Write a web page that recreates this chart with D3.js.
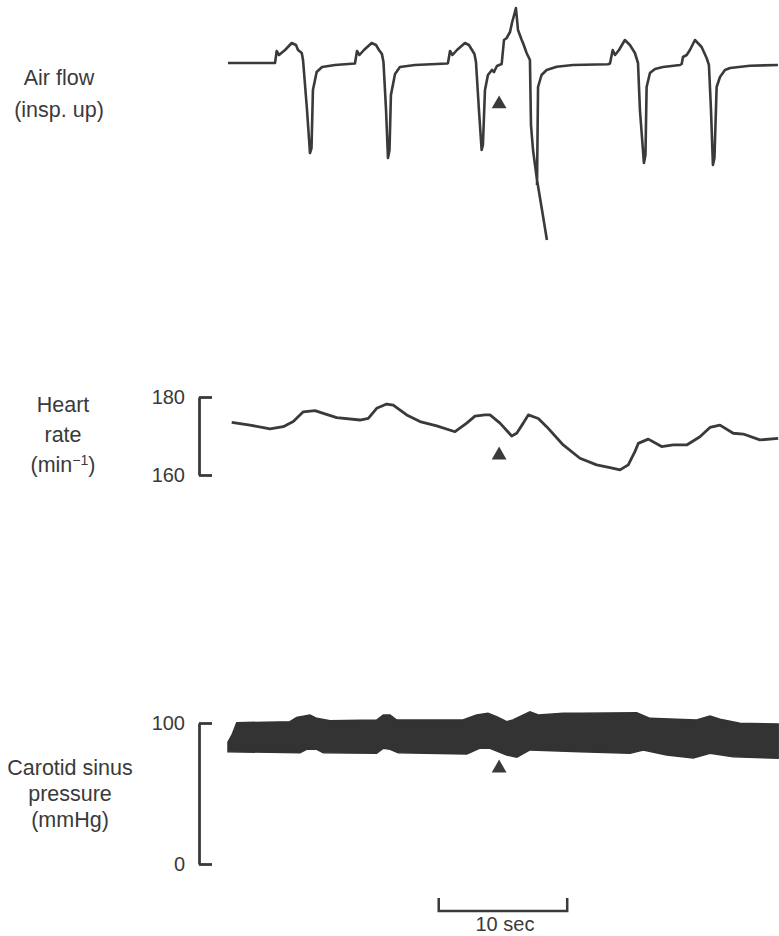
<!DOCTYPE html>
<html>
<head>
<meta charset="utf-8">
<script src="https://cdn.jsdelivr.net/npm/d3@7"></script>
<style>
  body { margin: 0; background: #fff; }
  svg text { font-family: "Liberation Sans", Arial, sans-serif; fill: #3a3a3a; }
</style>
</head>
<body>
<div id="chart"></div>
<script>
const width = 779, height = 936;
const ink = "#3a3a3a";

// air flow trace (arbitrary units, inspiration up), null = pen gap
const airTime = [0, 3.66, 3.79, 3.97, 4.44, 4.96, 5.29, 5.45, 5.74, 5.84, 6.15, 6.38, 6.50, 6.61, 6.90, 7.32, 8.33, 9.88,
  10.04, 10.23, 10.58, 11.18, 11.52, 11.75, 11.98, 12.10, 12.30, 12.45, 12.57, 12.68, 13.00, 13.38, 14.55, 17.04,
  17.12, 17.28, 17.47, 17.82, 18.44, 18.75, 18.99, 19.18, 19.30, 19.53, 19.74, 19.84, 20.00, 20.23, 20.54, 20.70, 20.93, 21.30,
  21.48, 21.69, 21.95, 22.10, 22.33, 22.41, 22.57, 22.86, 22.96, 23.24, 23.50, 23.58, 23.74, 24.05, 24.44, 24.82,
  24.82, 24.05, 24.13, 24.40, 24.80, 25.58, 26.85, 29.57,
  29.73, 29.94, 30.12, 30.43, 30.89, 31.28, 31.67, 31.91, 32.06, 32.37, 32.49, 32.58, 32.84, 33.23, 33.85, 35.18,
  35.31, 35.41, 35.70, 35.95, 36.34, 36.86, 37.25, 37.43, 37.59, 37.74, 37.86, 38.03, 38.29, 38.68, 39.07, 40.62, 42.80];
const airFlow = [0, 0, 12, 8, 13, 20, 18, 13, 10, 3, -47, -90, -85, -27, -9, -4, -2, -0.5,
  12, 8, 13, 20, 18, 13, 9, 1, -47, -95, -87, -32, -11, -4, -2, -0.5,
  0, 12, 8, 13, 20, 18, 13, 9, 1, -47, -87, -82, -27, -12, -7, -9, -3, -1,
  23, 25, 31, 40, 51, 55, 33, 23, 20, 10, 3, -62, -87, -117, -147, -177,
  null, -122, -24, -12, -7, -3.7, -2, -1.3,
  -0.5, 13, 8, 13, 23, 18, 10, 0, -47, -100, -92, -24, -10, -6, -4, -2,
  -1, 6, 8, 13, 23, 16, 5, -2, -47, -102, -95, -24, -14, -7, -5, -2.7, -2];

// heart rate (min^-1)
const hrTime = [0.29, 1.71, 3.27, 4.30, 5.08, 5.86, 6.77, 7.42, 8.46, 10.27, 10.92, 11.57, 12.35, 12.86, 13.91, 14.94,
  16.24, 17.67, 18.58, 19.22, 20.00, 20.39, 21.17, 22.08, 22.47, 22.98, 23.37, 24.15, 24.80, 26.09, 27.39, 28.69,
  29.73, 30.51, 31.15, 31.67, 31.93, 32.71, 33.75, 34.65, 35.70, 36.73, 37.51, 38.29, 39.32, 40.10, 41.40, 42.82];
const hrValue = [173.5, 172.8, 171.8, 172.4, 173.7, 176.2, 176.5, 175.8, 174.7, 174.1, 174.5, 177.1, 178.2, 177.9, 175.4, 173.7,
  172.6, 171.1, 173.3, 175.1, 175.4, 175.4, 173.3, 170.0, 170.7, 173.3, 175.4, 174.5, 172.4, 167.7, 164.3, 162.6,
  161.9, 161.3, 162.6, 166.0, 168.1, 169.2, 167.3, 167.7, 167.7, 169.8, 172.2, 172.8, 170.7, 170.5, 169.0, 169.4];

// carotid sinus pressure envelope (mmHg): systolic top, diastolic bottom
const sysTime = [0, 0.31, 0.68, 4.82, 5.35, 6.38, 6.90, 7.94, 11.57, 12.09, 12.61, 13.13, 18.29, 19.35, 20.23, 20.91,
  21.69, 22.18, 23.50, 24.15, 26.09, 27.39, 31.81, 32.84, 36.47, 37.51, 38.29, 39.84, 42.82];
const sysValue = [86.5, 91.5, 100.2, 100.9, 104, 105.7, 103.3, 101.6, 102.1, 105.7, 105.7, 102.1, 102.1, 105.7, 106.9, 104.5,
  100.9, 102.1, 108, 105.7, 106.9, 106.9, 107.3, 103.3, 102.1, 105, 102.6, 99.8, 99.3];
const diaTime = [0, 5.60, 6.12, 6.90, 7.42, 11.57, 12.09, 12.61, 13.25, 18.58, 19.61, 20.39, 21.69, 22.47, 23.50,
  27.39, 31.28, 32.32, 34.14, 36.21, 37.51, 39.32, 42.82];
const diaValue = [79.6, 78.9, 81.3, 81.3, 78.9, 78.5, 82.1, 81.3, 78.9, 78.0, 82.3, 82.1, 77.3, 75.7, 80.9,
  79.6, 78.5, 80.9, 77.3, 75.2, 78.5, 76.1, 75.0];

// stimulus markers and time bar
const markerTime = 21.1;
const markerAir = -41, markerHr = 165.1, markerP = 68;
const barStart = 16.4, barLength = 10;

const hrTicks = [160, 180];
const pTicks = [0, 100];

const svg = d3.select("#chart").append("svg")
  .attr("width", width).attr("height", height);

const x = d3.scaleLinear().domain([0, 43]).range([228, 780.5]);
const yAir = d3.scaleLinear().domain([-180, 60]).range([243, 3]);
const yHr = d3.scaleLinear().domain([160, 180]).range([475, 397]);
const yP = d3.scaleLinear().domain([0, 100]).range([864, 723]);

const air = airTime.map((t, i) => ({t, v: airFlow[i]}));
const hr = hrTime.map((t, i) => ({t, v: hrValue[i]}));
const band = sysTime.map((t, i) => ({t, v: sysValue[i]}))
  .concat(diaTime.map((t, i) => ({t, v: diaValue[i]})).reverse());

svg.append("path")
  .datum(air)
  .attr("fill", "none").attr("stroke", ink).attr("stroke-width", 2.6)
  .attr("stroke-linejoin", "round")
  .attr("d", d3.line().defined(d => d.v !== null).x(d => x(d.t)).y(d => yAir(d.v)));

svg.append("path")
  .datum(hr)
  .attr("fill", "none").attr("stroke", ink).attr("stroke-width", 2.8)
  .attr("stroke-linejoin", "round")
  .attr("d", d3.line().x(d => x(d.t)).y(d => yHr(d.v)));

svg.append("path")
  .datum(band)
  .attr("fill", "#333").attr("stroke", "#333").attr("stroke-width", 1.5)
  .attr("d", d3.line().curve(d3.curveLinearClosed).x(d => x(d.t)).y(d => yP(d.v)));

// bracket axes
function bracket(scale, ticks) {
  return d3.axisLeft(scale).tickValues(ticks).tickFormat(d3.format("d"))
    .tickSizeInner(-13).tickSizeOuter(0).tickPadding(14);
}
[[yHr, hrTicks], [yP, pTicks]].forEach(([s, t]) => {
  const g = svg.append("g").attr("transform", "translate(199,0)").call(bracket(s, t));
  g.select(".domain").attr("stroke", ink).attr("stroke-width", 2.8);
  g.selectAll(".tick line").attr("stroke", ink).attr("stroke-width", 2.8);
  g.selectAll(".tick text").attr("font-size", 20).attr("fill", ink)
    .style("font-family", "Liberation Sans, Arial, sans-serif");
});

// triangles
const tri = d3.symbol().type(d3.symbolTriangle).size(95);
[[yAir, markerAir], [yHr, markerHr], [yP, markerP]].forEach(([s, v]) => {
  svg.append("path").attr("d", tri)
    .attr("transform", `translate(${x(markerTime)},${s(v)})`)
    .attr("fill", ink);
});

// labels
function label(lines, cx, y0, dy) {
  const t = svg.append("text").attr("text-anchor", "middle").attr("font-size", 21.5);
  lines.forEach((l, i) => {
    const ts = t.append("tspan").attr("x", cx).attr("y", y0 + i * dy);
    if (typeof l === "string") ts.text(l);
    else l(ts);
  });
}
label(["Air flow", "(insp. up)"], 59, 85, 32);
label(["Heart", "rate", ts => {
  ts.text("(min");
  ts.append("tspan").attr("dy", -7).attr("font-size", 14).text("−1");
  ts.append("tspan").attr("dy", 7).text(")");
}], 63, 412, 30);
label(["Carotid sinus", "pressure", "(mmHg)"], 70, 775, 26);

// time bar
const bar = d3.path();
bar.moveTo(x(barStart), 898);
bar.lineTo(x(barStart), 911);
bar.lineTo(x(barStart + barLength), 911);
bar.lineTo(x(barStart + barLength), 898);
svg.append("path").attr("d", bar.toString())
  .attr("fill", "none").attr("stroke", ink).attr("stroke-width", 2.5);
svg.append("text").attr("x", x(barStart + barLength / 2) + 2).attr("y", 931)
  .attr("text-anchor", "middle").attr("font-size", 20).text("10 sec");
</script>
</body>
</html>
